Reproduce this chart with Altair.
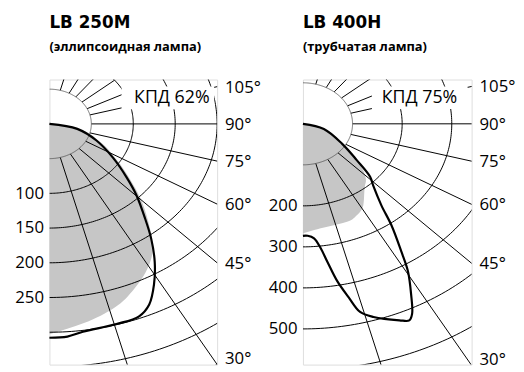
import altair as alt
import pandas as pd
import numpy as np

FONT = "Open Sans"

titles = ["LB 250M", "LB 400H"]
subtitles = ["(эллипсоидная лампа)", "(трубчатая лампа)"]
kpd_texts = ["КПД 62%", "КПД 75%"]

# ---- LB 250M (left) : angle from nadir (deg), luminous intensity
L_curve_ang = [90, 77.8, 66.9, 57.3, 50.1, 45.3, 39.9, 36.3, 32.3, 28.3, 24.6, 21.1, 15.5, 7.6, 4.0, 0]
L_curve_I = [0, 34, 61, 90, 120, 146, 178, 205, 235, 263, 286, 297, 299, 302, 307, 308]
L_gray_ang = [90, 77.8, 66.9, 57.3, 50.1, 45.3, 39.9, 34.4, 29.6, 23.1, 16.2, 8.0, 0]
L_gray_I = [0, 36, 65, 95, 126, 153, 184, 218, 238, 258, 276, 290, 303]
L_hub = 50
L_arcs = [100, 150, 200, 250, 300, 350, 400]
L_ylabels = [100, 150, 200, 250]
L_xmax = 200
L_ydom = [-346.6, 63.9]
L_kpd_pos = [146, 37]
L_kpd_box = [86, 196.5, 21, 54]

# ---- LB 400H (right)
R_curve_ang = [90, 73.3, 58.3, 50.8, 46.4, 43.2, 38.5, 35.8, 32.5, 30.5, 27.7, 25.4, 24.1, 22.1,
               16.8, 14.1, 12.3, 10.2, 8.3, 6.7, 4.6, 2.0, 0]
R_curve_I = [0, 44, 93, 140, 187, 207, 254, 305, 369, 417, 469, 513, 525, 517,
             492, 473, 433, 389, 339, 305, 280, 273, 273]
R_gray_ang = [90, 73.3, 58.3, 50.8, 42.5, 39.6, 31.5, 26, 20.4, 11.1, 5, 0]
R_gray_I = [0, 44, 93, 140, 188, 196, 233, 248, 255, 256, 260, 267]
R_hub = 100
R_arcs = [200, 300, 400, 500, 600, 700]
R_ylabels = [200, 300, 400, 500]
R_xmax = 340
R_ydom = [-587, 108]
R_kpd_pos = [235, 64]
R_kpd_box = [139, 332, 36, 91]

long_rays = [15, 30, 45, 60, 75, 90, 105]
short_rays = [116, 129, 141, 152, 165]
angle_labels = [105, 90, 75, 60, 45]
corner_label = [30]

POLAR_X = "datum.I*sin(datum.a*PI/180)"
POLAR_Y = "-datum.I*cos(datum.a*PI/180)"


def panel(title, subtitle, kpd, c_ang, c_I, g_ang, g_I, hub, arcs, ylabels,
          xmax, ydom, kpos, kbox, width):
    xs = alt.Scale(domain=[0, xmax], nice=False, zero=False)
    ys = alt.Scale(domain=ydom, nice=False, zero=False)
    yaxis = alt.Axis(values=[-v for v in ylabels], labelExpr="abs(datum.value)",
                     title=None, domain=False, ticks=False, tickSize=0, grid=False,
                     labelPadding=6, labelFontSize=17, labelFont=FONT, labelColor="black")

    def X(f):
        return alt.X(f, type="quantitative", scale=xs, axis=None)

    def Y(f):
        return alt.Y(f, type="quantitative", scale=ys, axis=yaxis)

    # gray fill
    gdf = pd.DataFrame({"a": g_ang, "I": g_I})
    gray = alt.Chart(gdf).mark_area(color="#c6c6c6", orient="horizontal",
                                    interpolate="monotone").transform_calculate(
        x=POLAR_X, y=POLAR_Y).encode(
        x=X("x"), x2=alt.value(0), y=Y("y"))

    # arcs
    angs = np.arange(0, 181, 1)
    adf = pd.DataFrame([{"I": r, "a": float(a)} for r in arcs for a in angs])
    arc_layer = alt.Chart(adf).mark_line(stroke="black", strokeWidth=1, clip=True).transform_calculate(
        x=POLAR_X, y=POLAR_Y).encode(x=X("x"), y=Y("y"), detail="I:N", order=alt.Order("a:Q"))

    hdf = pd.DataFrame([{"I": hub, "a": float(a)} for a in angs])
    hub_layer = alt.Chart(hdf).mark_line(stroke="#555", strokeWidth=0.8, clip=True).transform_calculate(
        x=POLAR_X, y=POLAR_Y).encode(x=X("x"), y=Y("y"), order=alt.Order("a:Q"))

    # rays
    rays = [{"a": a, "r0": hub, "r1": xmax * 5} for a in long_rays] + \
           [{"a": a, "r0": hub, "r1": hub * 2} for a in short_rays]
    rdf = pd.DataFrame(rays)
    ray_layer = alt.Chart(rdf).mark_rule(stroke="black", strokeWidth=1, clip=True).transform_calculate(
        x1="datum.r0*sin(datum.a*PI/180)", y1="-datum.r0*cos(datum.a*PI/180)",
        x2="datum.r1*sin(datum.a*PI/180)", y2="-datum.r1*cos(datum.a*PI/180)").encode(
        x=X("x1"), y=Y("y1"), x2=alt.X2("x2:Q"), y2=alt.Y2("y2:Q"))

    # text background and text
    bdf = pd.DataFrame({"x1": [kbox[0]], "x2": [kbox[1]], "y1": [kbox[2]], "y2": [kbox[3]]})
    box_layer = alt.Chart(bdf).mark_rect(fill="white").encode(
        x=X("x1"), x2=alt.X2("x2:Q"), y=Y("y1"), y2=alt.Y2("y2:Q"))
    kdf = pd.DataFrame({"x": [kpos[0]], "y": [kpos[1]], "t": [kpd]})
    kpd_layer = alt.Chart(kdf).mark_text(fontSize=18, font=FONT, color="black").encode(
        x=X("x"), y=Y("y"), text="t:N")

    # curve
    cdf = pd.DataFrame({"a": c_ang, "I": c_I, "i": range(len(c_ang))})
    curve = alt.Chart(cdf).mark_line(stroke="black", strokeWidth=2.2,
                                     interpolate="catmull-rom").transform_calculate(
        x=POLAR_X, y=POLAR_Y).encode(x=X("x"), y=Y("y"), order=alt.Order("i:Q"))

    # angle labels on right edge
    def labels(angles, dy):
        ldf = pd.DataFrame({"a": angles})
        return alt.Chart(ldf).mark_text(align="left", baseline="middle", dx=8, dy=dy,
                                        fontSize=17, font=FONT, color="black").transform_calculate(
            x=str(xmax), y=f"-{xmax}*cos(datum.a*PI/180)/sin(datum.a*PI/180)",
            t="datum.a + '°'").encode(x=X("x"), y=Y("y"), text="t:N")

    return alt.layer(gray, arc_layer, ray_layer, hub_layer, box_layer, kpd_layer, curve,
                     labels(angle_labels, 1), labels(corner_label, -5)).properties(
        width=width, height=289,
        title=alt.TitleParams(title, subtitle=subtitle, anchor="start", frame="group",
                              fontSize=17, fontWeight="bold", font="DejaVu Sans", color="black",
                              subtitleFontSize=13, subtitleFontWeight="bold", subtitleFont=FONT,
                              subtitleColor="black", subtitlePadding=9, offset=24))


left = panel(titles[0], subtitles[0], kpd_texts[0], L_curve_ang, L_curve_I, L_gray_ang, L_gray_I,
             L_hub, L_arcs, L_ylabels, L_xmax, L_ydom, L_kpd_pos, L_kpd_box, 170)
right = panel(titles[1], subtitles[1], kpd_texts[1], R_curve_ang, R_curve_I, R_gray_ang, R_gray_I,
              R_hub, R_arcs, R_ylabels, R_xmax, R_ydom, R_kpd_pos, R_kpd_box, 171)

chart = alt.hconcat(left, right, spacing=6).configure_view(
    stroke="black", strokeWidth=2).configure(
    background="white", padding={"left": 6, "top": 3, "right": 0, "bottom": 0})

chart.save("out.html", embed_options={"renderer": "svg", "actions": False})
